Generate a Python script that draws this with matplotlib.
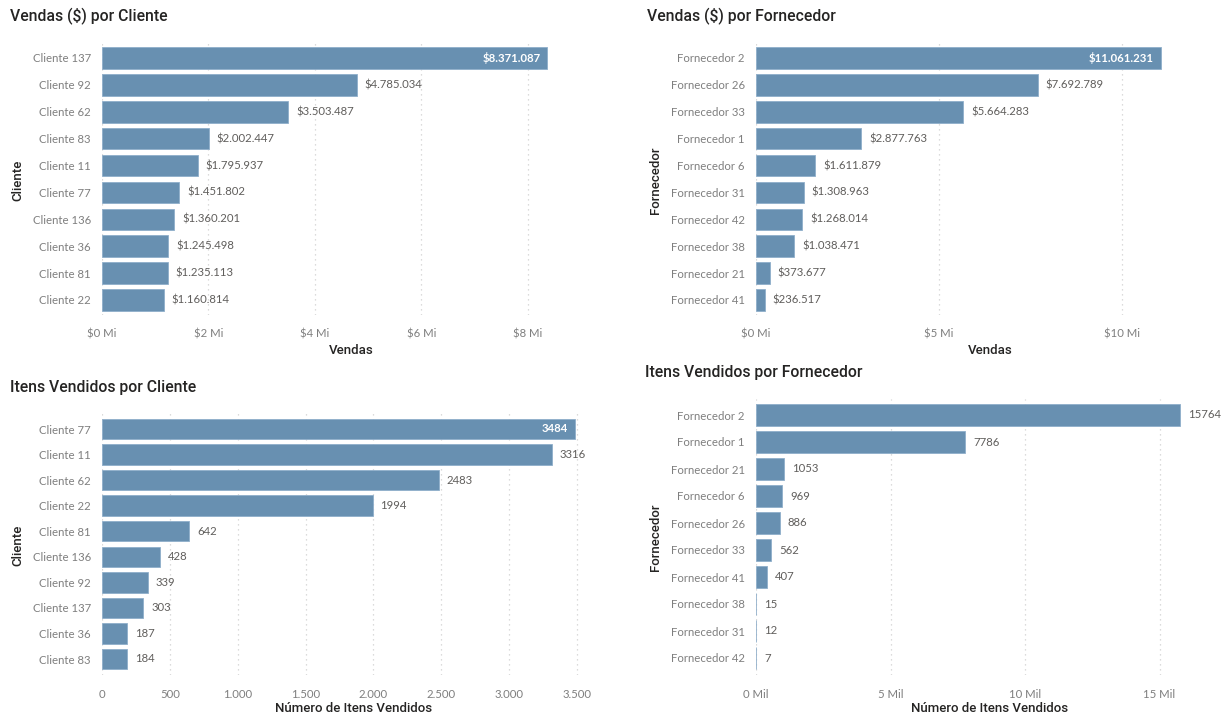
import matplotlib
matplotlib.use("Agg")
import matplotlib.pyplot as plt
from matplotlib.ticker import FuncFormatter, MultipleLocator

# ---------------- data ----------------
clientes_vendas = ["Cliente 137", "Cliente 92", "Cliente 62", "Cliente 83", "Cliente 11",
                   "Cliente 77", "Cliente 136", "Cliente 36", "Cliente 81", "Cliente 22"]
vendas_cliente = [8371087, 4785034, 3503487, 2002447, 1795937,
                  1451802, 1360201, 1245498, 1235113, 1160814]

fornecedores_vendas = ["Fornecedor 2", "Fornecedor 26", "Fornecedor 33", "Fornecedor 1", "Fornecedor 6",
                       "Fornecedor 31", "Fornecedor 42", "Fornecedor 38", "Fornecedor 21", "Fornecedor 41"]
vendas_fornecedor = [11061231, 7692789, 5664283, 2877763, 1611879,
                     1308963, 1268014, 1038471, 373677, 236517]

clientes_itens = ["Cliente 77", "Cliente 11", "Cliente 62", "Cliente 22", "Cliente 81",
                  "Cliente 136", "Cliente 92", "Cliente 137", "Cliente 36", "Cliente 83"]
itens_cliente = [3484, 3316, 2483, 1994, 642, 428, 339, 303, 187, 184]

fornecedores_itens = ["Fornecedor 2", "Fornecedor 1", "Fornecedor 21", "Fornecedor 6", "Fornecedor 26",
                      "Fornecedor 33", "Fornecedor 41", "Fornecedor 38", "Fornecedor 31", "Fornecedor 42"]
itens_fornecedor = [15764, 7786, 1053, 969, 886, 562, 407, 15, 12, 7]

# ---------------- style ----------------
W, H = 1230, 718
BAR = "#6890B1"
TICK = "#7F7F7F"
LAB = "#605E5C"
TITLE = "#252423"
GRID = "#D0D0D0"
TFONT = ["Roboto", "DejaVu Sans"]
FONT = ["Lato", "DejaVu Sans"]

fig = plt.figure(figsize=(W / 100, H / 100), dpi=100)
fig.patch.set_facecolor("white")


def thousands(v):
    return f"{int(round(v)):,}".replace(",", ".")


def panel(rect_px, cats, vals, xmax, step, fmt, label_fmt, title, title_xy,
          xlabel, xlab_xy, ylabel, ylab_xy, inside_first, row_top, row_bot):
    left, top, right, bottom = rect_px
    wid, hgt = right - left, bottom - top
    ax = fig.add_axes([left / W, 1 - bottom / H, wid / W, hgt / H])
    n = len(cats)
    spacing = (row_bot - row_top) / (n - 1)
    y0 = -(row_top - top) / spacing
    y1 = (n - 1) + (bottom - row_bot) / spacing
    ypos = list(range(n))
    ax.barh(ypos, vals, height=0.8, color=BAR, edgecolor="#8FAECA", linewidth=0.6, zorder=3)
    ax.set_xlim(0, xmax)
    ax.set_ylim(y1, y0)
    ax.set_yticks(ypos)
    ax.set_yticklabels(cats, fontsize=8.2, color=TICK, family=FONT)
    ax.xaxis.set_major_locator(MultipleLocator(step))
    ax.xaxis.set_major_formatter(FuncFormatter(fmt))
    for lbl in ax.get_xticklabels():
        lbl.set_family(FONT)
    ax.tick_params(axis="x", length=0, pad=10, labelsize=8.2, labelcolor=TICK)
    ax.tick_params(axis="y", length=0, pad=8)
    for s in ax.spines.values():
        s.set_visible(False)
    ax.grid(axis="x", linestyle=(0, (1, 3)), color=GRID, linewidth=0.9, zorder=0)
    ax.set_axisbelow(True)

    px_per_unit = wid / xmax
    for i, v in enumerate(vals):
        if i == 0 and inside_first:
            ax.text(v - 7 / px_per_unit, i, label_fmt(v), ha="right", va="center",
                    fontsize=8.2, color="white", family=FONT, fontweight="bold", zorder=4)
        else:
            ax.text(v + 8 / px_per_unit, i, label_fmt(v), ha="left", va="center",
                    fontsize=8.2, color=LAB, family=FONT, zorder=4)

    ax.set_xlabel(xlabel, fontsize=9.5, color=TITLE, family=TFONT, fontweight="medium")
    ax.xaxis.set_label_coords((xlab_xy[0] - left) / wid, (bottom - xlab_xy[1]) / hgt)
    ax.xaxis.label.set_va("center")
    ax.set_ylabel(ylabel, fontsize=9.5, color=TITLE, family=TFONT, fontweight="medium")
    ax.yaxis.set_label_coords((ylab_xy[0] - left) / wid, (bottom - ylab_xy[1]) / hgt)
    ax.yaxis.label.set_va("center")
    fig.text(title_xy[0] / W, 1 - title_xy[1] / H, title, fontsize=11.3, color=TITLE,
             family=TFONT, ha="left", va="center", fontweight="medium")
    return ax


money_mi = lambda v, p: f"${int(round(v / 1e6))} Mi"
mil = lambda v, p: f"{int(round(v / 1e3))} Mil"
plain = lambda v, p: thousands(v)
money_lbl = lambda v: "$" + thousands(v)
num_lbl = lambda v: str(v)

# Panel 1
r1 = (102, 42, 102 + 8.8e6 * 53.2e-6, 315)
panel(r1, clientes_vendas, vendas_cliente, 8.8e6, 2e6, money_mi, money_lbl,
      "Vendas ($) por Cliente", (10, 16), "Vendas", (351, 350), "Cliente", (18, 180),
      True, 58, 300)

# Panel 2
r2 = (756, 42, 756 + 12.0e6 * 36.6e-6, 315)
panel(r2, fornecedores_vendas, vendas_fornecedor, 12.0e6, 5e6, money_mi, money_lbl,
      "Vendas ($) por Fornecedor", (647, 16), "Vendas", (990, 350), "Fornecedor", (655, 180),
      True, 58, 300)

# Panel 3
r3 = (102, 413, 102 + 3650 * 0.1357, 675)
panel(r3, clientes_itens, itens_cliente, 3650, 500, plain, num_lbl,
      "Itens Vendidos por Cliente", (10, 388), "Número de Itens Vendidos", (354, 708),
      "Cliente", (18, 545), True, 429, 659)

# Panel 4
r4 = (756, 399, 756 + 16500 * 0.0269, 675)
panel(r4, fornecedores_itens, itens_fornecedor, 16500, 5000, mil, num_lbl,
      "Itens Vendidos por Fornecedor", (645, 373), "Número de Itens Vendidos", (990, 708),
      "Fornecedor", (655, 537), False, 415, 658)

fig.savefig("out.png", dpi=100, facecolor="white")
